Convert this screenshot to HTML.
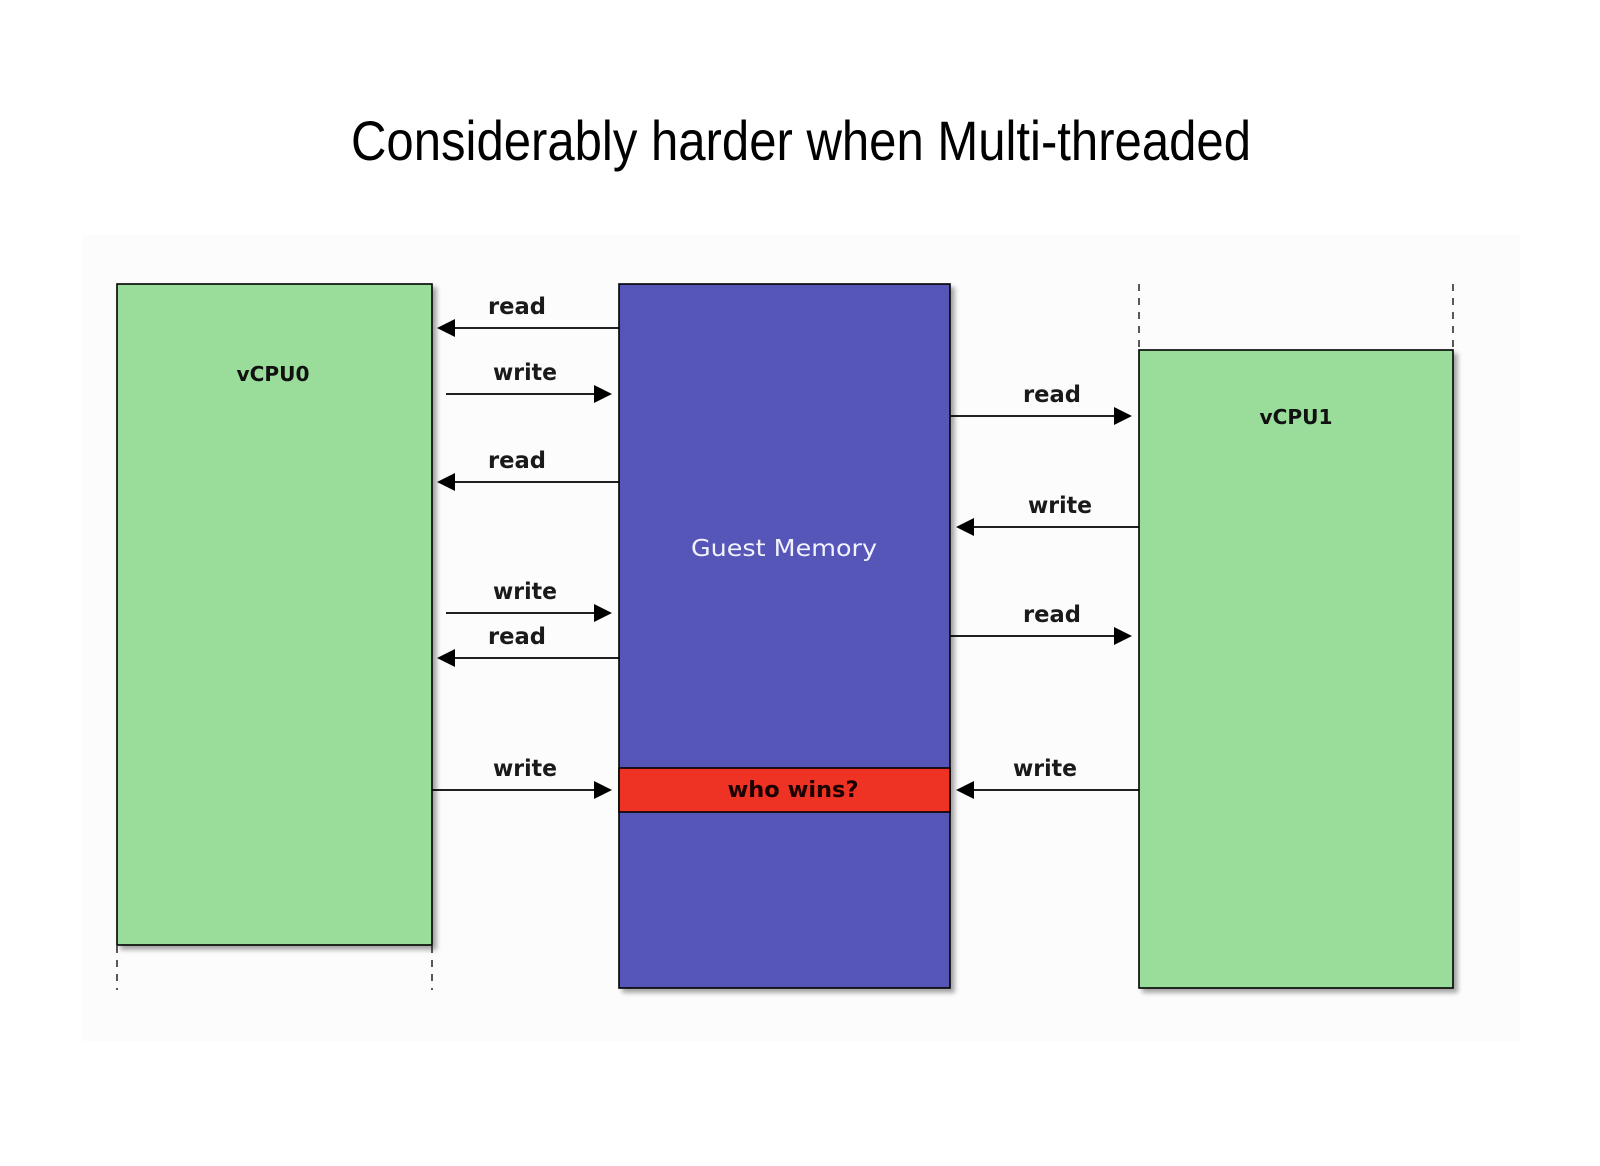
<!DOCTYPE html>
<html>
<head>
<meta charset="utf-8">
<style>
  html, body { margin: 0; padding: 0; background: #ffffff; }
  body { width: 1600px; height: 1166px; overflow: hidden; }
  svg { display: block; }
  .lbl { font-family: "DejaVu Sans", "Liberation Sans", sans-serif; font-weight: bold; font-size: 23px; fill: #1a1a1a; }
</style>
</head>
<body>
<svg width="1600" height="1166" viewBox="0 0 1600 1166" xmlns="http://www.w3.org/2000/svg">
  <defs>
    <filter id="sh" x="-10%" y="-10%" width="130%" height="130%">
      <feDropShadow dx="4" dy="4" stdDeviation="2.5" flood-color="#000000" flood-opacity="0.35"/>
    </filter>
  </defs>

  <rect x="0" y="0" width="1600" height="1166" fill="#ffffff"/>
  <rect x="82" y="235" width="1438" height="806" fill="#fcfcfc"/>

  <!-- Title -->
  <text x="351" y="160" textLength="900" lengthAdjust="spacingAndGlyphs"
        font-family="Liberation Sans, sans-serif" font-size="56" fill="#000000" stroke="#ffffff" stroke-width="0.6" paint-order="stroke">Considerably harder when Multi-threaded</text>

  <!-- Boxes -->
  <g filter="url(#sh)">
    <rect x="117" y="284" width="315" height="661" fill="#9add9a" stroke="#000" stroke-width="1.6"/>
    <rect x="619" y="284" width="331" height="704" fill="#5656b9" stroke="#000" stroke-width="1.6"/>
    <rect x="1139" y="350" width="314" height="638" fill="#9add9a" stroke="#000" stroke-width="1.6"/>
  </g>

  <!-- red band -->
  <rect x="619" y="768" width="331" height="44" fill="#ee3224" stroke="#000" stroke-width="1.6"/>

  <!-- dashed lifelines -->
  <g stroke="#000" stroke-width="1.3" stroke-dasharray="7,7">
    <line x1="117" y1="946" x2="117" y2="990"/>
    <line x1="432" y1="946" x2="432" y2="990"/>
    <line x1="1139" y1="284" x2="1139" y2="349"/>
    <line x1="1453" y1="284" x2="1453" y2="349"/>
  </g>

  <!-- Box labels -->
  <text x="273" y="381" text-anchor="middle" textLength="73" lengthAdjust="spacingAndGlyphs"
        font-family="DejaVu Sans, sans-serif" font-weight="bold" font-size="20" fill="#111">vCPU0</text>
  <text x="1296" y="424" text-anchor="middle" textLength="73" lengthAdjust="spacingAndGlyphs"
        font-family="DejaVu Sans, sans-serif" font-weight="bold" font-size="20" fill="#111">vCPU1</text>
  <text x="784" y="556" text-anchor="middle" textLength="186" lengthAdjust="spacingAndGlyphs"
        font-family="DejaVu Sans, sans-serif" font-size="23" fill="#f2f2ff">Guest Memory</text>
  <text x="793" y="797" text-anchor="middle" textLength="131" lengthAdjust="spacingAndGlyphs"
        font-family="DejaVu Sans, sans-serif" font-weight="bold" font-size="22" fill="#1a0000">who wins?</text>

  <!-- Arrows: left side -->
  <g stroke="#000" stroke-width="1.8" fill="none">
    <line x1="619" y1="328" x2="452" y2="328"/>
    <line x1="446" y1="394" x2="596" y2="394"/>
    <line x1="619" y1="482" x2="452" y2="482"/>
    <line x1="446" y1="613" x2="596" y2="613"/>
    <line x1="619" y1="658" x2="452" y2="658"/>
    <line x1="432" y1="790" x2="596" y2="790"/>
    <!-- right side -->
    <line x1="950" y1="416" x2="1116" y2="416"/>
    <line x1="1139" y1="527" x2="972" y2="527"/>
    <line x1="950" y1="636" x2="1116" y2="636"/>
    <line x1="1139" y1="790" x2="972" y2="790"/>
  </g>
  <g fill="#000">
    <polygon points="437,328 455,319 455,337"/>
    <polygon points="612,394 594,385 594,403"/>
    <polygon points="437,482 455,473 455,491"/>
    <polygon points="612,613 594,604 594,622"/>
    <polygon points="437,658 455,649 455,667"/>
    <polygon points="612,790 594,781 594,799"/>
    <polygon points="1132,416 1114,407 1114,425"/>
    <polygon points="956,527 974,518 974,536"/>
    <polygon points="1132,636 1114,627 1114,645"/>
    <polygon points="956,790 974,781 974,799"/>
  </g>

  <!-- Arrow labels -->
  <text class="lbl" x="517" y="314" text-anchor="middle" textLength="58" lengthAdjust="spacingAndGlyphs">read</text>
  <text class="lbl" x="525" y="380" text-anchor="middle" textLength="64" lengthAdjust="spacingAndGlyphs">write</text>
  <text class="lbl" x="517" y="468" text-anchor="middle" textLength="58" lengthAdjust="spacingAndGlyphs">read</text>
  <text class="lbl" x="525" y="599" text-anchor="middle" textLength="64" lengthAdjust="spacingAndGlyphs">write</text>
  <text class="lbl" x="517" y="644" text-anchor="middle" textLength="58" lengthAdjust="spacingAndGlyphs">read</text>
  <text class="lbl" x="525" y="776" text-anchor="middle" textLength="64" lengthAdjust="spacingAndGlyphs">write</text>

  <text class="lbl" x="1052" y="402" text-anchor="middle" textLength="58" lengthAdjust="spacingAndGlyphs">read</text>
  <text class="lbl" x="1060" y="513" text-anchor="middle" textLength="64" lengthAdjust="spacingAndGlyphs">write</text>
  <text class="lbl" x="1052" y="622" text-anchor="middle" textLength="58" lengthAdjust="spacingAndGlyphs">read</text>
  <text class="lbl" x="1045" y="776" text-anchor="middle" textLength="64" lengthAdjust="spacingAndGlyphs">write</text>
</svg>
</body>
</html>
